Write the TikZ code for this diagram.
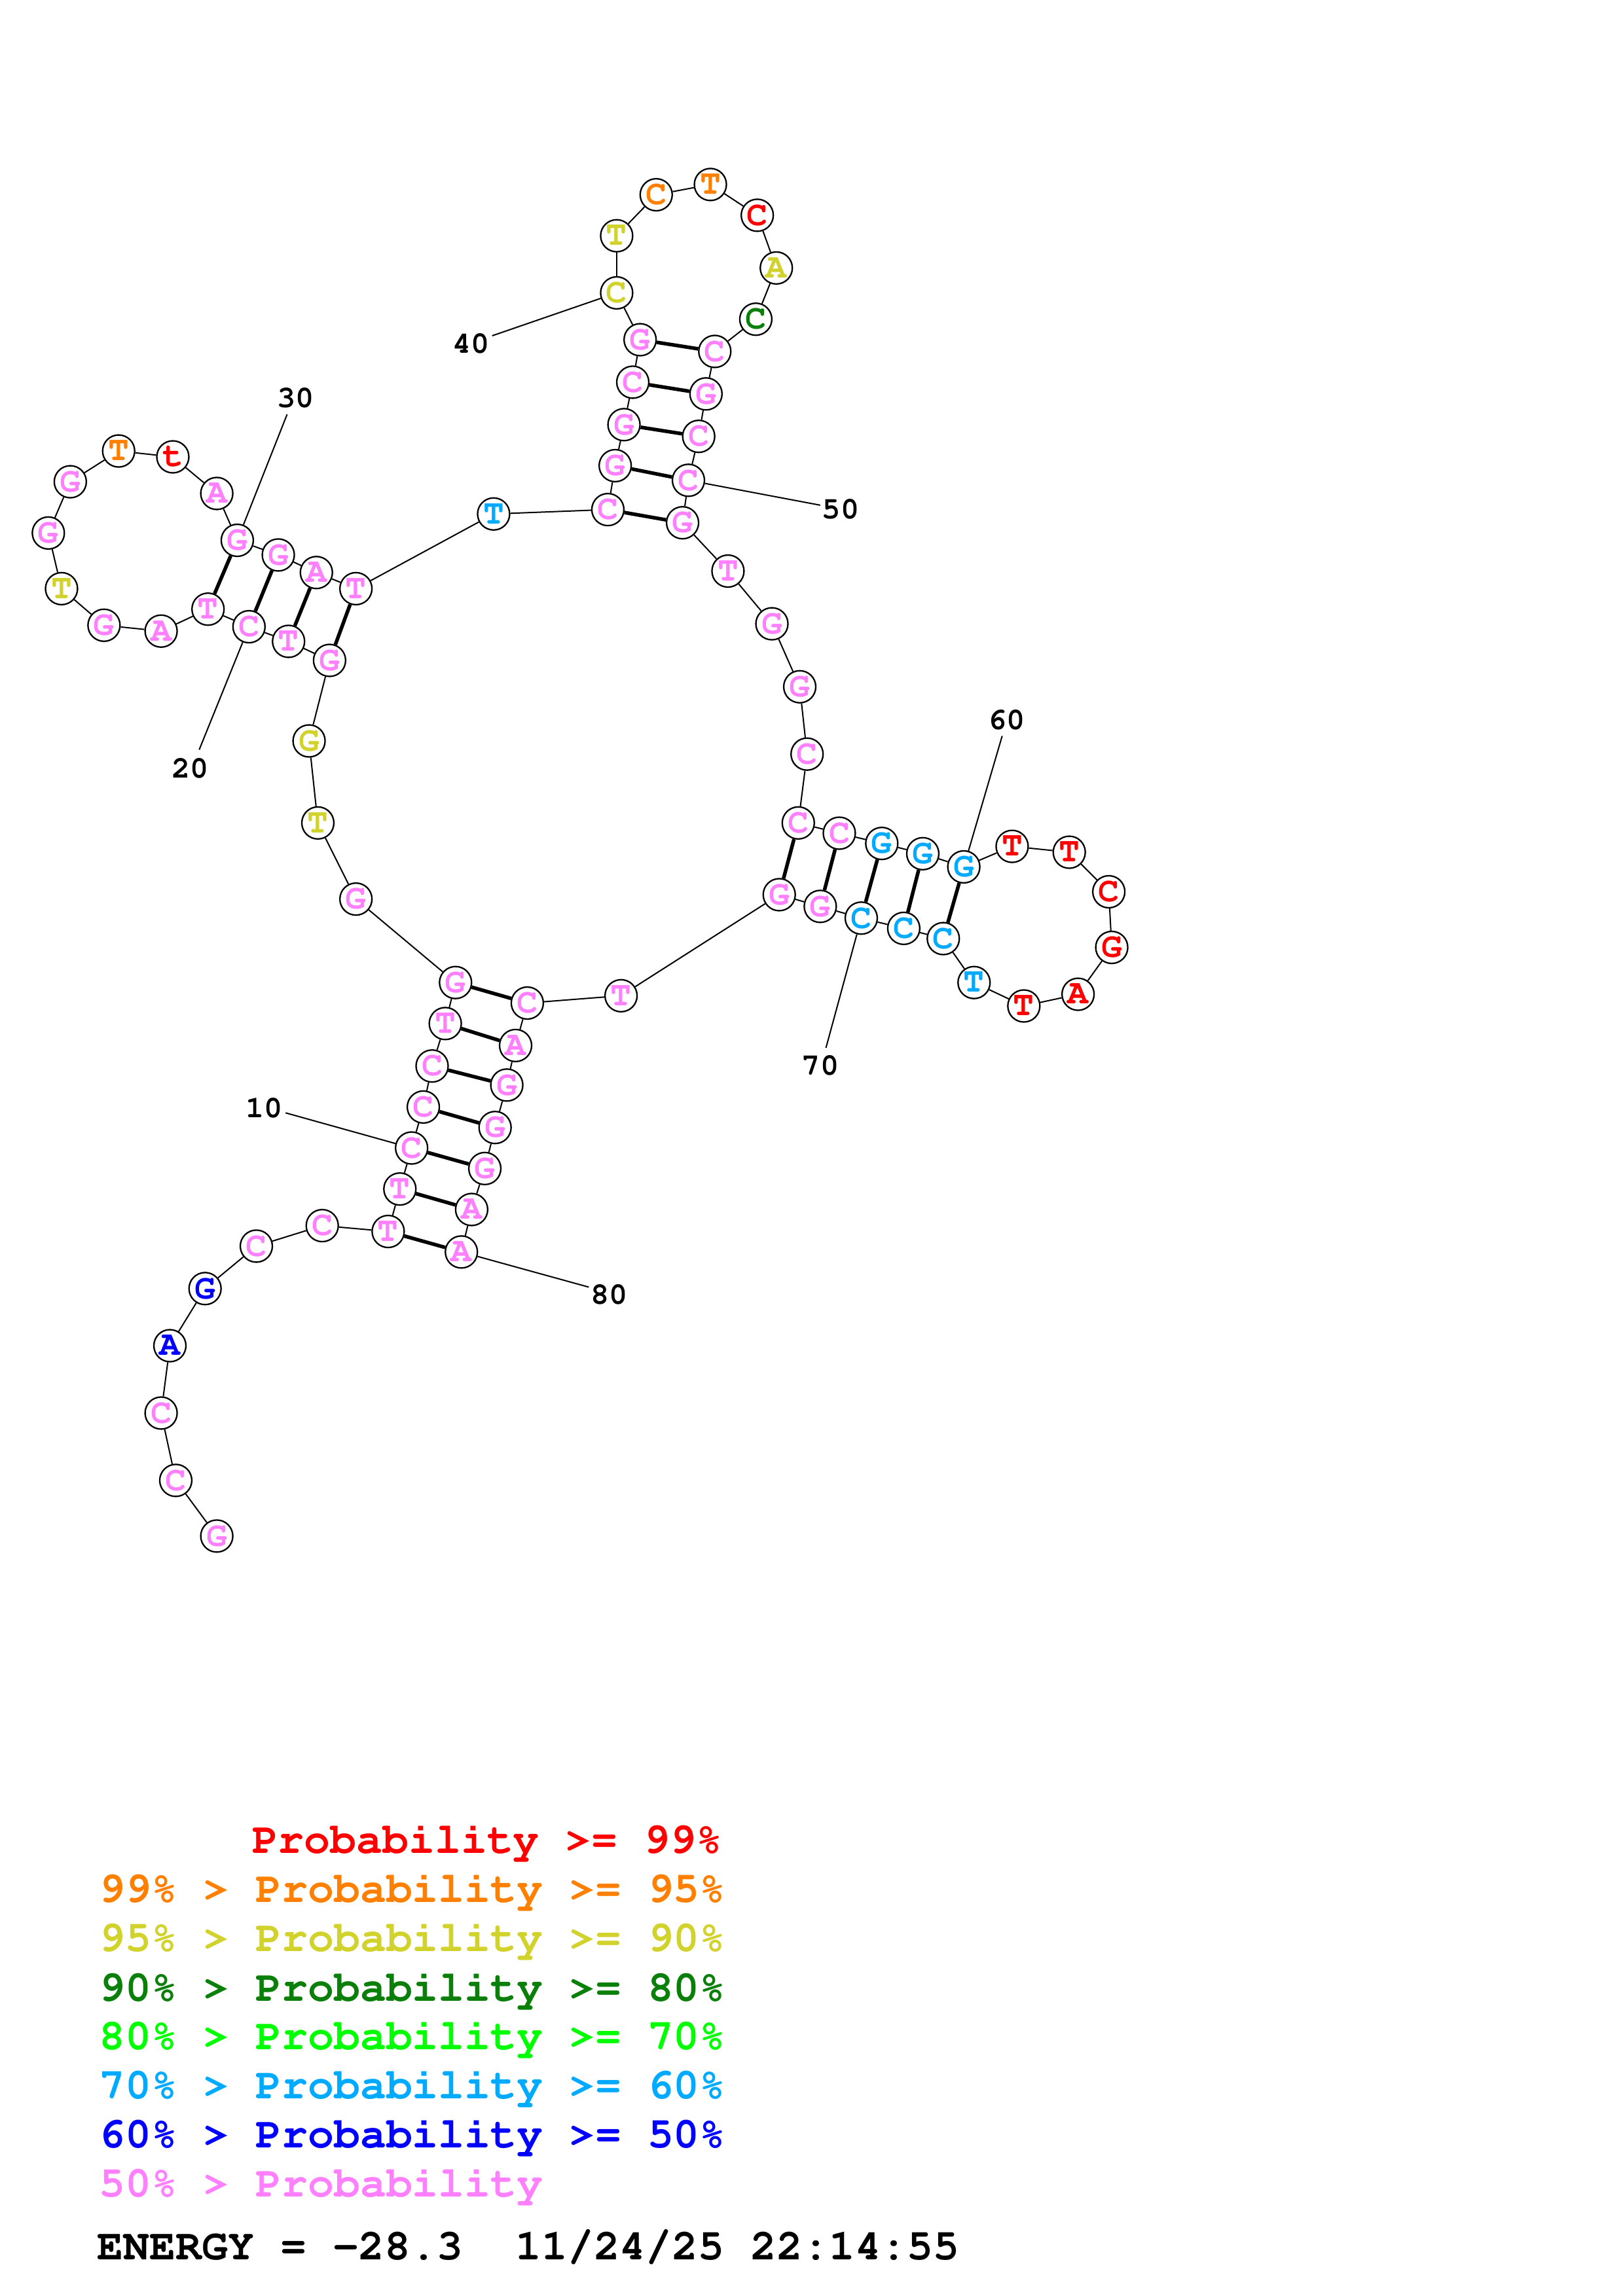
\documentclass[tikz,border=0pt]{standalone}
\usepackage[T1,TU]{fontenc}
\newcommand\courb{\fontencoding{T1}\fontfamily{pcr}\fontseries{b}\fontshape{n}\selectfont}
\definecolor{rd}{HTML}{FF0000}
\definecolor{og}{HTML}{FF8000}
\definecolor{yl}{HTML}{D2D22D}
\definecolor{dg}{HTML}{0A800A}
\definecolor{gr}{HTML}{00FF00}
\definecolor{lb}{HTML}{00AAFF}
\definecolor{bl}{HTML}{0000FF}
\definecolor{pk}{HTML}{FF80FF}
\begin{document}
\begin{tikzpicture}[x=2.2374pt,y=-2.2374pt,
  nt/.style={circle,draw=black,line width=2.3pt,fill=white,minimum size=49pt,inner sep=0pt,
    font=\courb\fontsize{53}{53}\selectfont},
  bb/.style={line width=2pt},
  pr/.style={line width=5.5pt},
  tick/.style={line width=2pt},
  numlab/.style={font=\courb\fontsize{47}{47}\selectfont,inner sep=0pt},
  leg/.style={anchor=base west,inner sep=0pt,font=\courb\fontsize{66.5}{66.5}\selectfont}]
\useasboundingbox (0,0) rectangle (1108,1568);
\foreach \i/\x/\y/\l/\c in {
 1/148/1049/G/pk, 2/120/1011/C/pk, 3/110/965/C/pk, 4/116/919/A/bl, 5/140/880/G/bl,
 6/175/851/C/pk, 7/220/837/C/pk, 8/265/841/T/pk, 9/273/812/T/pk, 10/281/784/C/pk,
 11/289/756/C/pk, 12/295/728/C/pk, 13/304/699/T/pk, 14/311/671/G/pk, 15/243/614/G/pk,
 16/217/562/T/yl, 17/211/506/G/yl, 18/225/451/G/pk, 19/197/438/T/pk, 20/170/428/C/pk,
 21/142/416/T/pk, 22/110/431/A/pk, 23/71/427/G/pk, 24/42/402/T/yl, 25/33/364/G/pk,
 26/48/329/G/pk, 27/81/308/T/og, 28/118/312/t/rd, 29/148/337/A/pk, 30/162/369/G/pk,
 31/190/379/G/pk, 32/216/391/A/pk, 33/243/402/T/pk, 34/337/351/T/lb, 35/415/348/C/pk,
 36/420/318/G/pk, 37/426/290/G/pk, 38/432/261/C/pk, 39/437/232/G/pk, 40/421/200/C/yl,
 41/421/161/T/yl, 42/448/133/C/og, 43/485/126/T/og, 44/517/147/C/rd, 45/530/183/A/yl,
 46/516/218/C/dg, 47/488/240/C/pk, 48/482/269/G/pk, 49/477/298/C/pk, 50/470/328/C/pk,
 51/466/357/G/pk, 52/497/390/T/pk, 53/527/426/G/pk, 54/546/469/G/pk, 55/551/515/C/pk,
 56/545/562/C/pk, 57/573/569/C/pk, 58/602/576/G/lb, 59/630/583/G/lb, 60/658/592/G/lb,
 61/691/578/T/rd, 62/730/582/T/rd, 63/757/609/C/rd, 64/759/647/G/rd, 65/736/679/A/rd,
 66/699/687/T/rd, 67/665/671/T/lb, 68/644/641/C/lb, 69/617/634/C/lb, 70/588/627/C/lb,
 71/560/619/G/pk, 72/532/611/G/pk, 73/424/680/T/pk, 74/360/685/C/pk, 75/352/714/A/pk,
 76/346/741/G/pk, 77/338/770/G/pk, 78/331/798/G/pk, 79/322/826/A/pk, 80/315/855/A/pk}
 \node[nt,text=\c] (n\i) at (\x,\y) {\l};
\foreach \i [evaluate=\i as \j using int(\i+1)] in {1,...,79}
 \draw[bb] (n\i) -- (n\j);
\foreach \a/\b in {8/80,9/79,10/78,11/77,12/76,13/75,14/74,
  18/33,19/32,20/31,21/30,35/51,36/50,37/49,38/48,39/47,
  56/72,57/71,58/70,59/69,60/68}
 \draw[pr] (n\a) -- (n\b);
\foreach \i/\ex/\ey/\lx/\ly in {10/195/760/180.3/757, 20/136/512/130/525,
  30/196/283/202/272, 40/336/229.3/321.6/234.6, 50/560/345/574/348,
  60/684.2/502.6/687.4/491.6, 70/563.9/715.6/560.1/727.6, 80/402/879/416/884}{
 \coordinate (e\i) at (\ex,\ey);
 \draw[tick] (n\i) -- (e\i);
 \node[numlab] (lab\i) at (\lx,\ly) {\i};
}
\node[leg,text=rd] (l1) at (172,1265.8) {Probability >= 99\%};
\node[leg,text=og] (l2) at (67.5,1299.3) {99\% > Probability >= 95\%};
\node[leg,text=yl] (l3) at (67.5,1332.8) {95\% > Probability >= 90\%};
\node[leg,text=dg] (l4) at (67.5,1366.4) {90\% > Probability >= 80\%};
\node[leg,text=gr] (l5) at (67.5,1399.9) {80\% > Probability >= 70\%};
\node[leg,text=lb] (l6) at (67.5,1433.4) {70\% > Probability >= 60\%};
\node[leg,text=bl] (l7) at (67.5,1466.9) {60\% > Probability >= 50\%};
\node[leg,text=pk] (l8) at (67.5,1500.4) {50\% > Probability};
\node[leg,text=black] (en) at (66.5,1543) {ENERGY = -28.3\ \ 11/24/25 22:14:55};
\end{tikzpicture}
\end{document}
